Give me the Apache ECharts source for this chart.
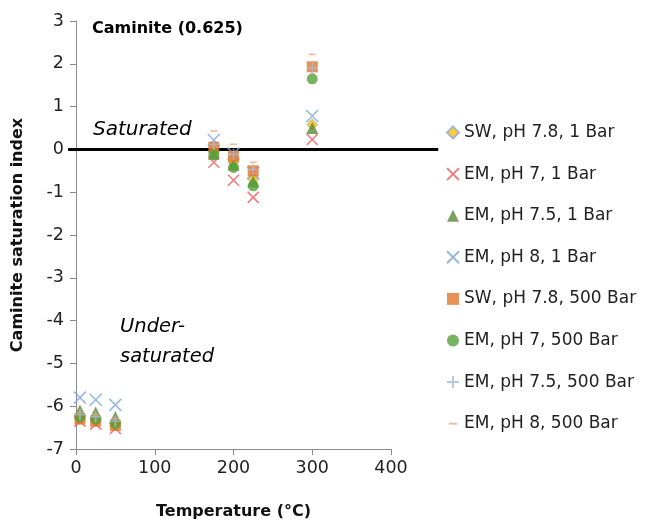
<!DOCTYPE html>
<html><head><meta charset="utf-8">
<script src="https://cdn.jsdelivr.net/npm/echarts@6/dist/echarts.min.js"></script>
<style>html,body{margin:0;padding:0;background:#fff}#c{width:646px;height:525px}</style>
</head><body><div id="c"></div>
<script>
const temps = [5, 25, 50, 175, 200, 225, 300];
const swPh78_1 = [-6.3, -6.35, -6.45, -0.05, -0.3, -0.7, 0.58];
const emPh7_1 = [-6.35, -6.42, -6.52, -0.3, -0.72, -1.12, 0.23];
const emPh75_1 = [-6.1, -6.15, -6.25, -0.1, -0.35, -0.75, 0.5];
const emPh8_1 = [-5.8, -5.85, -5.97, 0.22, -0.1, -0.55, 0.78];
const swPh78_500 = [-6.3, -6.35, -6.45, 0.05, -0.17, -0.5, 1.93];
const emPh7_500 = [-6.25, -6.3, -6.4, -0.12, -0.42, -0.85, 1.65];
const emPh75_500 = [-6.2, -6.25, -6.35, 0.12, -0.12, -0.47, 1.9];
const emPh8_500 = [-6.15, -6.2, -6.3, 0.43, 0.12, -0.3, 2.22];
const seriesNames = ['SW, pH 7.8, 1 Bar','EM, pH 7, 1 Bar','EM, pH 7.5, 1 Bar','EM, pH 8, 1 Bar','SW, pH 7.8, 500 Bar','EM, pH 7, 500 Bar','EM, pH 7.5, 500 Bar','EM, pH 8, 500 Bar'];
const zeroLineX = [-10, 460];
const zeroLineY = [0, 0];

const FONT = '"DejaVu Sans"';
const X = 'path://M0,0L10,10M10,0L0,10';
const PLUS = 'path://M5,0L5,10M0,5L10,5';
const DASH = 'path://M0,0M1.5,4.2L8.5,4.2L8.5,5.8L1.5,5.8ZM10,10';
function pts(v){ return temps.map((t,i)=>[t, v[i]]); }
const styles = [
  {data: swPh78_1, symbol:'diamond', size:11, item:{color:'#FFC000', borderColor:'#8FAADC', borderWidth:1}},
  {data: emPh7_1, symbol:X, size:11, item:{color:'rgba(0,0,0,0)', borderColor:'#F05A5A', borderWidth:1.6}},
  {data: emPh75_1, symbol:'triangle', size:12, item:{color:'#5E8A3A'}},
  {data: emPh8_1, symbol:X, size:12, item:{color:'rgba(0,0,0,0)', borderColor:'#7EA6D8', borderWidth:1.6}},
  {data: swPh78_500, symbol:'rect', size:11, item:{color:'#E0762C'}},
  {data: emPh7_500, symbol:'circle', size:11, item:{color:'#56A03A'}},
  {data: emPh75_500, symbol:PLUS, size:11, item:{color:'rgba(0,0,0,0)', borderColor:'#A7BCDD', borderWidth:1.6}},
  {data: emPh8_500, symbol:DASH, size:10, item:{color:'#F2A58A'}}
];
const series = styles.map((s,i)=>({
  name: seriesNames[i], type:'scatter', data: pts(s.data), symbol:s.symbol, symbolSize:s.size,
  itemStyle: s.item, z: 3 + i
}));

const chart = echarts.init(document.getElementById('c'), null, {renderer:'canvas'});
chart.setOption({
  animation:false,
  textStyle:{fontFamily:FONT},
  grid:{left:76, right:255, top:21, bottom:76},
  xAxis:{type:'value', min:0, max:400, interval:100,
    name:'Temperature (°C)', nameLocation:'middle', nameGap:55,
    nameTextStyle:{fontWeight:'bold', fontSize:16, color:'#111', fontFamily:FONT},
    axisLine:{onZero:false, lineStyle:{color:'#8a8a8a'}}, axisTick:{length:6, lineStyle:{color:'#8a8a8a'}},
    axisLabel:{fontSize:17.5, color:'#222', margin:10}, splitLine:{show:false}},
  yAxis:{type:'value', min:-7, max:3, interval:1,
    name:'Caminite saturation index', nameLocation:'middle', nameGap:50, nameRotate:90,
    nameTextStyle:{fontWeight:'bold', fontSize:16, color:'#111', fontFamily:FONT},
    axisLine:{show:true, onZero:false, lineStyle:{color:'#8a8a8a'}}, axisTick:{show:true, length:6, lineStyle:{color:'#8a8a8a'}},
    axisLabel:{fontSize:17.5, color:'#222', margin:12}, splitLine:{show:false}},
  legend:{orient:'vertical', left:441, top:119, itemGap:24.6, itemWidth:12, itemHeight:12,
    data: seriesNames.map((n,i)=> i===7 ? {name:n, icon:DASH} : n),
    textStyle:{fontSize:17, lineHeight:16, color:'#222', fontFamily:FONT}},
  series: series
});
const p0 = chart.convertToPixel({gridIndex:0}, [zeroLineX[0], zeroLineY[0]]);
const p1 = chart.convertToPixel({gridIndex:0}, [zeroLineX[1], zeroLineY[1]]);
chart.setOption({graphic:[
  {type:'text', left:92, top:21, style:{text:'Caminite (0.625)', font:'bold 16px '+FONT, fill:'#000'}},
  {type:'text', left:93, top:120, style:{text:'Saturated', font:'italic 20px '+FONT, fill:'#000'}},
  {type:'text', left:120, top:312, style:{text:'Under-\nsaturated', font:'italic 19.5px '+FONT, fill:'#000', lineHeight:30}},
  {type:'line', shape:{x1:p0[0], y1:p0[1], x2:p1[0], y2:p1[1]}, style:{stroke:'#000', lineWidth:3}, z:2, silent:true}
]});
</script></body></html>
